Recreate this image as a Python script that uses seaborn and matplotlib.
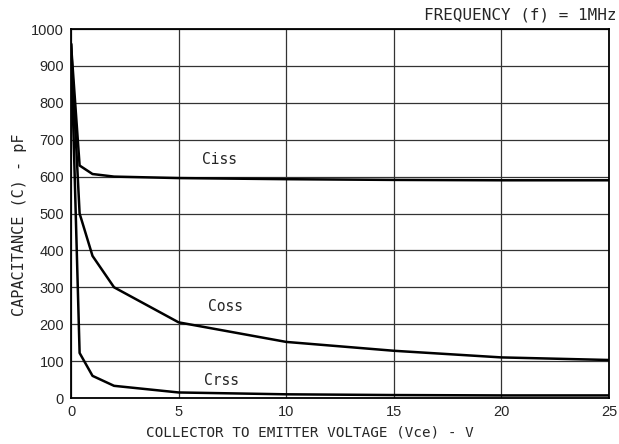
import matplotlib
matplotlib.use("Agg")
import matplotlib.pyplot as plt
import seaborn as sns
import pandas as pd

vce = [0, 0.4, 1, 2, 5, 10, 15, 20, 25]
ciss = [960, 630, 607, 600, 596, 593, 591, 590, 590]
coss = [960, 500, 385, 300, 205, 152, 128, 110, 103]
crss = [960, 122, 60, 33, 15, 10, 8, 7, 7]
series_names = ["Ciss", "Coss", "Crss"]
label_pos = [(6.9, 645), (7.2, 247), (7.0, 47)]

df = pd.DataFrame({
    "Vce": vce * 3,
    "C": ciss + coss + crss,
    "series": sum([[n] * len(vce) for n in series_names], []),
})

sns.set_style("white")
fig = plt.figure(figsize=(6.19, 4.44), dpi=100)
ax = fig.add_axes([71 / 619, 1 - 398 / 444, 538 / 619, 369 / 444])

sns.lineplot(data=df, x="Vce", y="C", units="series", estimator=None,
             color="black", linewidth=1.8, ax=ax, legend=False)

ax.set_xlim(0, 25)
ax.set_ylim(0, 1000)
ax.set_xticks(range(0, 26, 5))
ax.set_yticks(range(0, 1001, 100))
ax.grid(True, color="#333333", linewidth=0.9)
ax.set_axisbelow(True)
for s in ax.spines.values():
    s.set_color("black")
    s.set_linewidth(1.3)
ax.tick_params(length=0, pad=5)
for t in ax.get_xticklabels() + ax.get_yticklabels():
    t.set_fontfamily("Liberation Sans")
    t.set_fontsize(10.5)

mono = "DejaVu Sans Mono"
ax.set_xlabel("COLLECTOR TO EMITTER VOLTAGE (Vce) - V", fontfamily=mono,
              fontsize=10.3, va="center")
ax.set_ylabel("CAPACITANCE (C) - pF", fontfamily=mono, fontsize=11, va="center")
ax.xaxis.set_label_coords(0.444, -34 / 369)
ax.yaxis.set_label_coords(-0.095, 0.469)

for name, (x, y) in zip(series_names, label_pos):
    ax.text(x, y, name, fontfamily=mono, fontsize=10.5, ha="center", va="center")

fig.text(617 / 619, 1 - 15 / 444, "FREQUENCY (f) = 1MHz", fontfamily=mono,
         fontsize=11.5, ha="right", va="center")

fig.savefig("out.png", dpi=100)
